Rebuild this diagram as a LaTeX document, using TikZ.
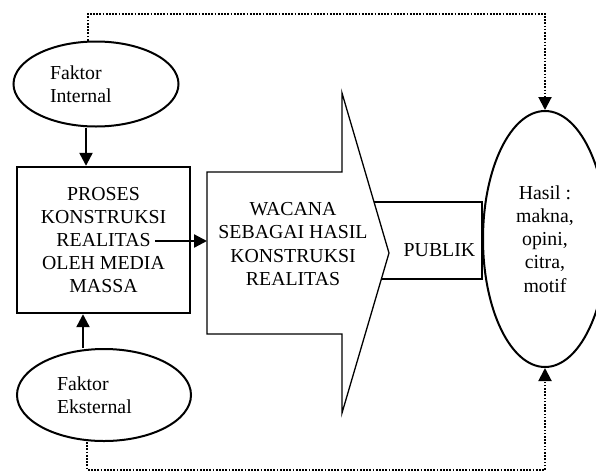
\documentclass[tikz,border=0pt]{standalone}
\usepackage{fontspec}
\setmainfont{Liberation Serif}
\usetikzlibrary{arrows.meta,shapes.geometric}
\begin{document}
\begin{tikzpicture}[x=1pt,y=-1pt,
  txt/.style={font=\fontsize{19.8}{23.2}\selectfont},
  solidarrow/.style={line width=2.3pt,-{Triangle[length=13pt,width=13pt]}},
  dotarrow/.style={line width=2pt,dash pattern=on 1.7pt off 1.5pt,-{Triangle[length=13pt,width=13pt]}},
  oval/.style={ellipse,draw,line width=2pt,inner sep=0pt,txt},
]
\useasboundingbox (0,0) rectangle (596,472);
% ellipses for the factors
\node[oval,minimum width=165pt,minimum height=85pt,text width=92pt,align=left] (fi) at (96,84) {Faktor\\Internal};
\node[oval,minimum width=174pt,minimum height=92pt,text width=94pt,align=left] (fe) at (104,395) {Faktor\\Eksternal};
% process box
\node[draw,line width=2.4pt,minimum width=173pt,minimum height=146pt,inner sep=0pt,txt,align=center] (proses) at (103.5,240) {PROSES\\KONSTRUKSI\\REALITAS\\OLEH MEDIA\\MASSA};
% publik box
\node[draw,line width=1.6pt,minimum width=112pt,minimum height=77pt,text width=98pt,align=right,inner xsep=7pt,inner ysep=0pt,text height=32pt,text depth=0pt,txt,anchor=east] (publik) at (483,240.5) {PUBLIK};
% big arrow
\draw[line width=1.3pt,fill=white] (207,172) -- (342,172) -- (342,93) -- (389,253) -- (342,413) -- (342,334) -- (207,334) -- cycle;
\node[txt,align=center] (wacana) at (293,244) {WACANA\\SEBAGAI HASIL\\KONSTRUKSI\\REALITAS};
\coordinate (wleft) at (207,241);
\coordinate (realend) at (155,241);
% result ellipse
\node[oval,minimum width=124pt,minimum height=256pt,align=center] (hasil) at (545,239) {Hasil :\\makna,\\opini,\\citra,\\motif};
% connectors
\draw[solidarrow] ([xshift=-10pt]fi.south) -- ([xshift=-10pt]fi.south |- proses.north);
\draw[solidarrow] ([xshift=-21pt]fe.north) -- ([xshift=-21pt]fe.north |- proses.south);
\draw[solidarrow] (realend) -- (wleft);
\draw[dotarrow] ([xshift=-8pt]fi.north) -- ++(0,-27) -| (hasil.north);
\draw[dotarrow] ([xshift=-17pt]fe.south) -- ++(0,28) -| (hasil.south);
\end{tikzpicture}
\end{document}
